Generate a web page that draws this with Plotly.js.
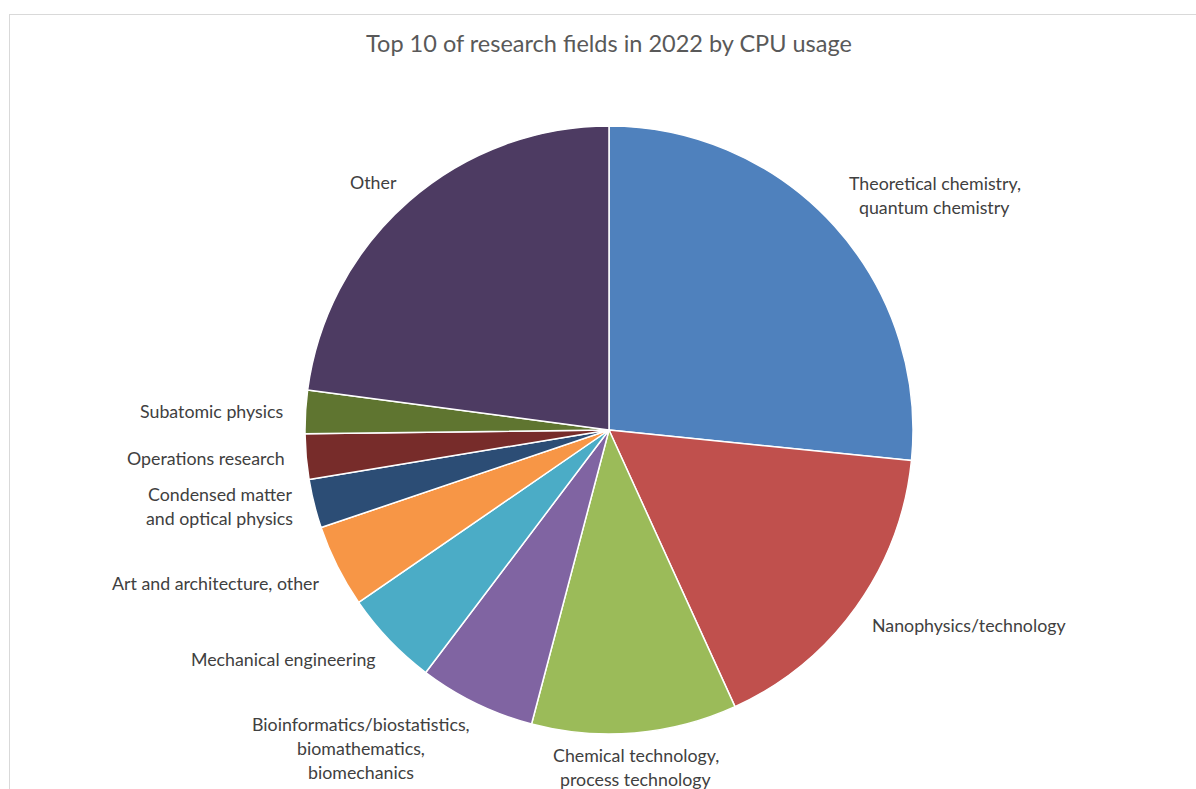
<!DOCTYPE html>
<html>
<head>
<meta charset="utf-8">
<script src="https://cdn.plot.ly/plotly-3.0.1.min.js"></script>
<style>
  html, body { margin: 0; padding: 0; background: #ffffff; }
  #wrap { position: relative; width: 1196px; height: 789px; overflow: hidden; }
  #chart { position: absolute; left: 0; top: 0; width: 1196px; height: 789px; }
  #frame { position: absolute; left: 9px; top: 14px; width: 1200px; height: 800px;
           border: 1px solid #d9d9d9; pointer-events: none; box-sizing: border-box; }
</style>
</head>
<body>
<div id="wrap">
  <div id="chart"></div>
  <div id="frame"></div>
</div>
<script>
// ---- Data ----
const categories = [
  "Theoretical chemistry, quantum chemistry",
  "Nanophysics/technology",
  "Chemical technology, process technology",
  "Bioinformatics/biostatistics, biomathematics, biomechanics",
  "Mechanical engineering",
  "Art and architecture, other",
  "Condensed matter and optical physics",
  "Operations research",
  "Subatomic physics",
  "Other"
];
const labelText = [
  "Theoretical chemistry,<br>quantum chemistry",
  "Nanophysics/technology",
  "Chemical technology,<br>process technology",
  "Bioinformatics/biostatistics,<br>biomathematics,<br>biomechanics",
  "Mechanical engineering",
  "Art and architecture, other",
  "Condensed matter<br>and optical physics",
  "Operations research",
  "Subatomic physics",
  "Other"
];
const cpuShare = [26.6, 16.6, 10.9, 6.2, 5.1, 4.4, 2.6, 2.4, 2.3, 22.9];
const sliceColors = ["#4F81BD", "#C0504D", "#9BBB59", "#8064A2", "#4BACC6",
                     "#F79646", "#2C4D75", "#772C2A", "#5F7530", "#4D3B62"];
const chartTitle = "Top 10 of research fields in 2022 by CPU usage";

// ---- Layout geometry ----
const W = 1196, H = 789;
const M = { l: 0, r: 0, t: 126, b: 55 };
const domX = [0.2550, 0.7634];
const plotW = W - M.l - M.r, plotH = H - M.t - M.b;
const cx = M.l + plotW * (domX[0] + domX[1]) / 2;
const cy = M.t + plotH / 2;
const rad = Math.min(plotW * (domX[1] - domX[0]), plotH) / 2;

const FONT = "Lato, 'Open Sans', sans-serif";
const LABEL_SIZE = 17.8;
const LINE_H = 24;
const canvas = document.createElement("canvas");
const ctx = canvas.getContext("2d");
ctx.font = LABEL_SIZE + "px Lato";

// ---- Labels placed from the slice mid-angles ----
const annotations = [];
const total = cpuShare.reduce((a, b) => a + b, 0);
let cum = 0;
cpuShare.forEach((v, i) => {
  const mid = (cum + v / 2) / total * 2 * Math.PI;
  cum += v;
  const s = Math.sin(mid), c = Math.cos(mid);
  const R = rad + 10;
  let px = cx + R * s, py = cy - R * c;
  const lines = labelText[i].split("<br>");
  const bw = Math.max(...lines.map(t => ctx.measureText(t).width));
  const bh = lines.length * LINE_H;
  let left;
  if (Math.abs(s) < 0.3) left = px - bw / 2;
  else if (s > 0) left = px + 12 * s * s;
  else left = px - 12 * s * s - bw;
  let top;
  if (c > 0.3) top = py - bh;
  else if (c < -0.3) top = py;
  else top = py - bh / 2;
  lines.forEach((t, k) => {
    const ly = top + LINE_H / 2 + k * LINE_H;
    annotations.push({
      text: t,
      xref: "paper", yref: "paper",
      x: (left + bw / 2 - M.l) / plotW,
      y: (M.t + plotH - ly) / plotH,
      xanchor: "center", yanchor: "middle",
      showarrow: false,
      font: { family: FONT, size: LABEL_SIZE, color: "#404040" }
    });
  });
});

const data = [{
  type: "pie",
  labels: categories,
  values: cpuShare,
  sort: false,
  direction: "clockwise",
  rotation: 0,
  textinfo: "none",
  hoverinfo: "label+percent",
  marker: { colors: sliceColors, line: { color: "#ffffff", width: 1.5 } },
  domain: { x: domX, y: [0, 1] },
  showlegend: false
}];

const layout = {
  width: W, height: H,
  margin: M,
  paper_bgcolor: "#ffffff",
  plot_bgcolor: "#ffffff",
  showlegend: false,
  title: {
    text: chartTitle,
    x: 609 / W, xanchor: "center",
    xref: "paper",
    y: 1 - 44 / H, yanchor: "middle", yref: "container",
    font: { family: FONT, size: 23.5, color: "#595959" }
  },
  annotations: annotations
};

Plotly.newPlot("chart", data, layout, { displayModeBar: false, staticPlot: false });
</script>
</body>
</html>
